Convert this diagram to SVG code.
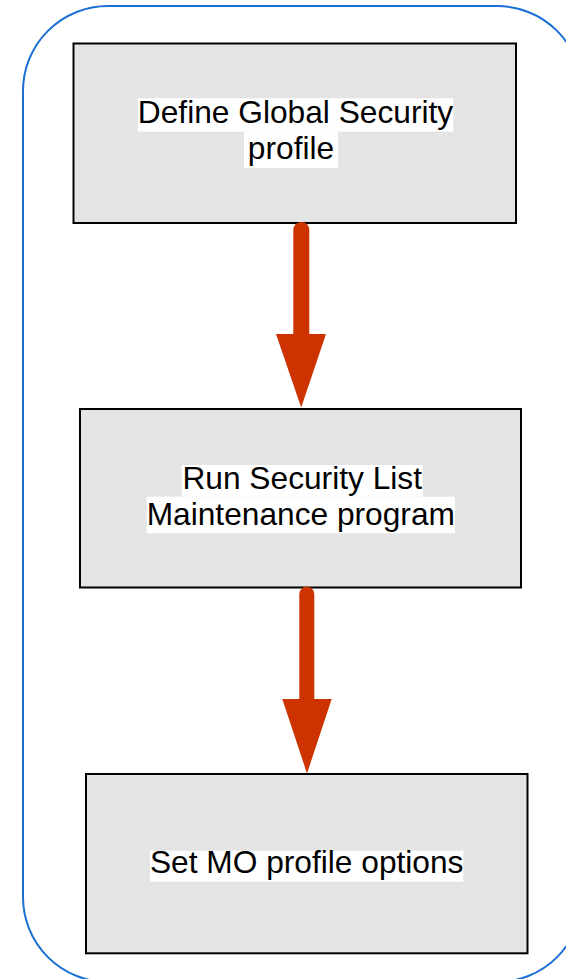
<svg xmlns="http://www.w3.org/2000/svg" width="566" height="979" viewBox="0 0 566 979">
  <style>
    .frame { fill: none; stroke: #1a6fd4; stroke-width: 2; }
    .box { fill: #e4e4e4; stroke: #000; stroke-width: 2; }
    .hl { fill: #fff; }
    .label { font-family: "Liberation Sans", Arial, sans-serif; font-size: 31.7px; fill: #000; text-anchor: middle; }
    .shaft { stroke: #cc3300; stroke-linecap: round; fill: none; }
    .head { fill: #cc3300; }
  </style>

  <!-- rounded container -->
  <rect class="frame" x="23" y="6" width="559" height="976" rx="85" ry="85"/>

  <g id="node-define-global-security">
    <rect class="box" x="73.5" y="43.5" width="442.5" height="179.5"/>
    <rect class="hl" x="137.7" y="98.3" width="315.6" height="33.4"/>
    <rect class="hl" x="244" y="131.7" width="94" height="36.3"/>
    <text class="label" x="295.5" y="122.5">Define Global Security</text>
    <text class="label" x="291" y="158.5">profile</text>
  </g>

  <g id="node-run-security-list">
    <rect class="box" x="80" y="409" width="441" height="178.5"/>
    <rect class="hl" x="181.7" y="465" width="241" height="31.7"/>
    <rect class="hl" x="146.7" y="496.7" width="308.3" height="36.6"/>
    <text class="label" x="302.2" y="489">Run Security List</text>
    <text class="label" x="300.8" y="524.5">Maintenance program</text>
  </g>

  <g id="node-set-mo-profile">
    <rect class="box" x="86" y="774" width="441.5" height="179.3"/>
    <rect class="hl" x="150" y="850.7" width="313.3" height="31"/>
    <text class="label" x="306.7" y="873">Set MO profile options</text>
  </g>

  <g id="connectors">
    <line class="shaft" x1="301.3" y1="230" x2="301.3" y2="336" stroke-width="16"/>
    <polygon class="head" points="276,334 326,334 301.2,407.5"/>
    <line class="shaft" x1="306.8" y1="594" x2="306.8" y2="701" stroke-width="15"/>
    <polygon class="head" points="282.3,699 331.7,699 307,773.5"/>
  </g>
</svg>
